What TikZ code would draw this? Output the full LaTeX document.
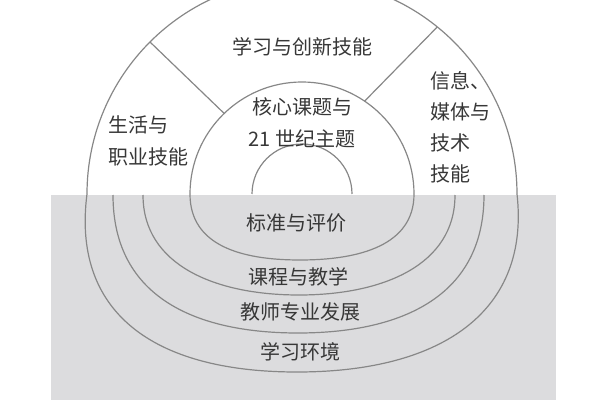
\documentclass[tikz,border=0pt]{standalone}
\usepackage{fontspec}
\newfontfamily\cjk{Noto Sans CJK SC}
\definecolor{paneGray}{RGB}{220,220,222}
\definecolor{ringLine}{RGB}{135,135,135}
\definecolor{labelInk}{RGB}{55,55,55}

\begin{document}
\begin{tikzpicture}[x=1pt,y=1pt]
\useasboundingbox (0,0) rectangle (600,400);
\clip (0,0) rectangle (600,400);
\fill[paneGray] (51,0) rectangle (556,205);

\coordinate (hub) at (302,206);

\begin{scope}[draw=ringLine,line width=1.2pt]
    % upper semicircles
    \draw (87,206) arc[start angle=180,end angle=0,radius=215];
    \draw (190,206) arc[start angle=180,end angle=0,radius=112];
    \draw (252,206) arc[start angle=180,end angle=0,radius=50];
    \draw ([shift={(135:215)}]hub) -- ([shift={(134:112)}]hub);
    \draw ([shift={(51:215)}]hub) -- ([shift={(56:112)}]hub);
    % lower rings
    \draw (190,206) .. controls (190,155) and (240,140) .. (300,140)
                    .. controls (360,140) and (414,155) .. (414,206);
    \draw (143,205) .. controls (143,135) and (215,105) .. (299,105)
                    .. controls (383,105) and (455,135) .. (455,205);
    \draw (113,205) .. controls (113,100) and (200,67) .. (298,67)
                    .. controls (396,67) and (484,100) .. (484,205);
    \draw (87,206) .. controls (72,90) and (150,28) .. (297,28)
                   .. controls (444,28) and (530,90) .. (517,206);
\end{scope}

\begin{scope}[every node/.style={text=labelInk,inner sep=0pt,
                                 font=\cjk\fontsize{20}{32}\selectfont}]
    \node (learn) at (302,353) {学习与创新技能};
    \node[align=left] (life) at (148,259) {生活与\\职业技能};
    \node[align=center] (core) at (302,277) {核心课题与\\21 世纪主题};
    \node[align=left,font=\cjk\fontsize{20}{31}\selectfont,anchor=west] (info) at (430,273) {信息、\\媒体与\\技术\\技能};
    \node (eval) at (296,177) {标准与评价};
    \node (teach) at (298,123) {课程与教学};
    \node (prof) at (300,88) {教师专业发展};
    \node (env) at (300,48) {学习环境};
\end{scope}
\end{tikzpicture}
\end{document}
